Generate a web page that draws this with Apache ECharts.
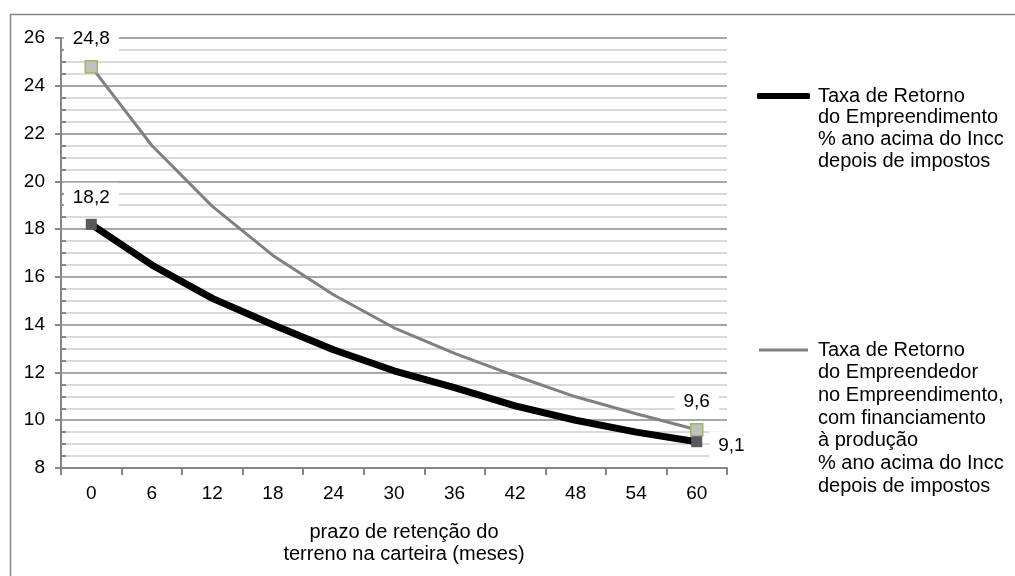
<!DOCTYPE html>
<html><head><meta charset="utf-8">
<script src="https://cdn.jsdelivr.net/npm/echarts@6/dist/echarts.min.js"></script>
<style>html,body{margin:0;padding:0;background:#fff}#c{width:1015px;height:576px}</style>
</head><body><div id="c"></div>
<script>
// ---- data ----
const categories = ['0','6','12','18','24','30','36','42','48','54','60'];
const empreendimento = [18.2, 16.5, 15.1, 14.0, 12.95, 12.07, 11.36, 10.6, 10.0, 9.5, 9.1];
const empreendedor = [24.8, 21.5, 18.95, 16.9, 15.25, 13.87, 12.8, 11.86, 10.98, 10.27, 9.6];
const yMin = 8, yMax = 26, yStep = 2;
const nameEmpreendimento = ['Taxa de Retorno', 'do Empreendimento', '% ano acima do Incc', 'depois de impostos'];
const nameEmpreendedor = ['Taxa de Retorno', 'do Empreendedor', 'no Empreendimento,', 'com financiamento', 'à produção', '% ano acima do Incc', 'depois de impostos'];
const xAxisTitle = 'prazo de retenção do\nterreno na carteira (meses)';

// ---- build ----
const FONT = 'Liberation Sans, Arial, sans-serif';
const LH1 = 21.8, LH2 = 22.7;
const fmt = v => String(v).replace('.', ',');
function points(values, marker, firstPos, lastPos, lastOffset) {
  return values.map((v, i) => {
    const first = i === 0, last = i === values.length - 1;
    if (!first && !last) return { value: v, symbol: 'none' };
    return {
      value: v, symbol: 'rect', symbolSize: marker.size, itemStyle: marker.style,
      label: {
        show: true, position: first ? firstPos : lastPos, distance: 7,
        offset: last && lastOffset ? lastOffset : [0, 0],
        formatter: p => fmt(p.value), fontSize: 19, fontFamily: FONT, color: '#000',
        backgroundColor: '#fff', padding: [5, 9]
      }
    };
  });
}
const n1 = nameEmpreendimento.join('\n');
const n2 = nameEmpreendedor.join('\n');
const N1 = nameEmpreendimento.length, N2 = nameEmpreendedor.length;

const chart = echarts.init(document.getElementById('c'), null, { renderer: 'canvas' });
chart.setOption({
  animation: false,
  backgroundColor: '#fff',
  textStyle: { fontFamily: FONT },
  graphic: [{
    type: 'rect', left: 8, top: 12, silent: true, z: -1,
    shape: { width: 1100, height: 700 },
    style: { fill: 'none', stroke: '#868686', lineWidth: 1.5 }
  }],
  grid: { left: 61, right: 288, top: 38, bottom: 108 },
  legend: [
    {
      data: [n1], left: 757, top: 96 - (2 * N1 - 1) * LH1 / 2, padding: 0, selectedMode: false,
      formatter: name => '\n'.repeat(N1 - 1) + name,
      icon: 'roundRect', itemWidth: 53, itemHeight: 6, itemStyle: { color: '#000' },
      textStyle: { fontSize: 20, lineHeight: LH1, color: '#000', fontFamily: FONT, padding: [0, 0, 0, 3] }
    },
    {
      data: [n2], left: 759, top: 350 - (2 * N2 - 1) * LH2 / 2, padding: 0, selectedMode: false,
      formatter: name => '\n'.repeat(N2 - 1) + name,
      icon: 'rect', itemWidth: 49, itemHeight: 3, itemStyle: { color: '#808080' },
      textStyle: { fontSize: 20, lineHeight: LH2, color: '#000', fontFamily: FONT, padding: [0, 0, 0, 5] }
    }
  ],
  xAxis: {
    type: 'category', data: categories, boundaryGap: true,
    name: xAxisTitle, nameLocation: 'middle', nameGap: 53,
    nameTextStyle: { fontSize: 20, lineHeight: 22, color: '#000', fontFamily: FONT, padding: [0, 0, 0, 20] },
    axisLine: { lineStyle: { color: '#868686', width: 2 } },
    axisTick: { show: true, length: 7, lineStyle: { color: '#868686', width: 2 } },
    axisLabel: { fontSize: 19, color: '#000', margin: 16, fontFamily: FONT },
    splitLine: { show: false }
  },
  yAxis: {
    type: 'value', min: yMin, max: yMax, interval: yStep,
    axisLine: { show: true, lineStyle: { color: '#868686', width: 2 } },
    axisTick: { show: true, length: 6, lineStyle: { color: '#868686', width: 2 } },
    axisLabel: { fontSize: 19, color: '#000', margin: 16, fontFamily: FONT },
    splitLine: { show: true, lineStyle: { color: '#8a8a8a', width: 1.5 } },
    minorTick: { show: true, splitNumber: 4, length: -5, lineStyle: { color: '#868686', width: 2 } },
    minorSplitLine: { show: true, lineStyle: { color: '#dadada', width: 2 } }
  },
  series: [
    {
      name: n2, type: 'line', data: points(empreendedor, { size: 12, style: { color: '#c0c0c0', borderColor: '#9bbb59', borderWidth: 1.5 } }, 'top', 'top'),
      symbol: 'rect', showSymbol: true, itemStyle: { color: '#808080' },
      lineStyle: { color: '#808080', width: 3 }, z: 2
    },
    {
      name: n1, type: 'line', data: points(empreendimento, { size: 11, style: { color: '#595959' } }, 'top', 'right', [0, 4]),
      symbol: 'rect', showSymbol: true, itemStyle: { color: '#000' },
      lineStyle: { color: '#000', width: 7, cap: 'round', join: 'round' }, z: 3
    }
  ]
});
</script></body></html>
